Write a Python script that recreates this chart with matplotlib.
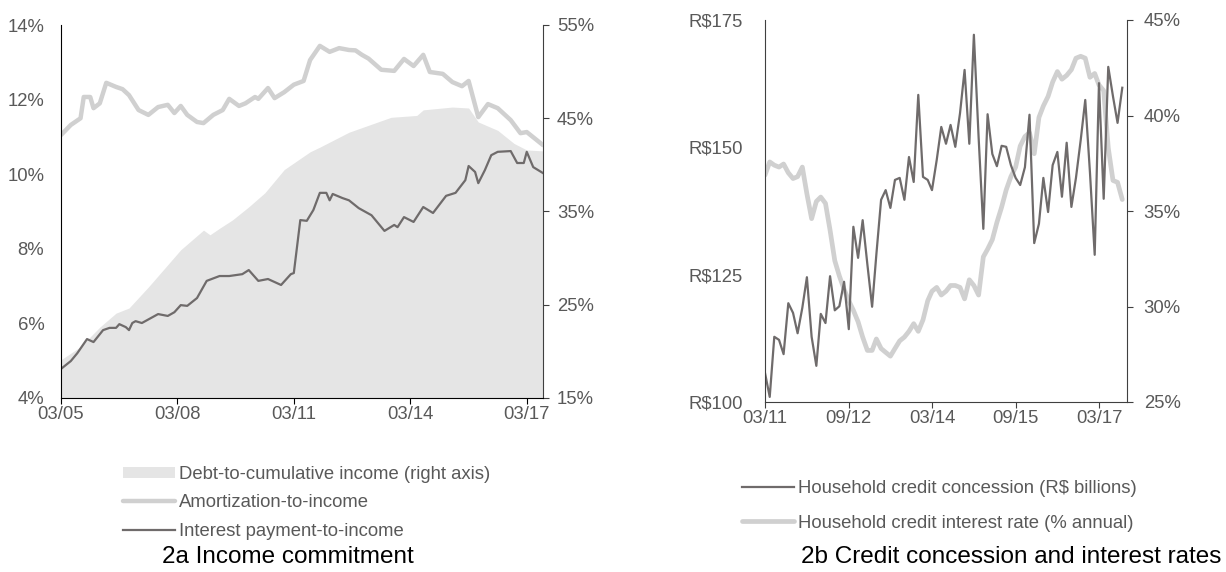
import matplotlib
matplotlib.use("Agg")
import matplotlib.pyplot as plt
import matplotlib.dates as mdates
from matplotlib.patches import Patch
from matplotlib.lines import Line2D
import pandas as pd

plt.rcParams['font.family'] = ['Liberation Sans', 'DejaVu Sans']

# ---- 2a data (monthly readings, % ) ----
amort_dates = ["2005-03", "2005-06", "2005-09", "2005-10", "2005-12", "2006-01", "2006-03", "2006-05",
               "2006-08", "2006-10", "2006-12", "2007-03", "2007-06", "2007-09", "2007-12", "2008-02",
               "2008-04", "2008-06", "2008-09", "2008-11", "2009-02", "2009-05", "2009-07", "2009-10",
               "2009-12", "2010-03", "2010-04", "2010-07", "2010-09", "2010-12", "2011-03", "2011-06",
               "2011-08", "2011-11", "2012-02", "2012-05", "2012-08", "2012-10", "2012-12", "2013-02",
               "2013-06", "2013-10", "2014-01", "2014-04", "2014-07", "2014-09", "2015-01", "2015-04",
               "2015-07", "2015-09", "2015-12", "2016-03", "2016-06", "2016-10", "2017-01", "2017-03",
               "2017-06", "2017-08"]
amortization = [11.05, 11.32, 11.5, 12.07, 12.07, 11.77, 11.9, 12.45,
                12.34, 12.28, 12.12, 11.72, 11.59, 11.8, 11.86, 11.64,
                11.83, 11.59, 11.4, 11.37, 11.59, 11.72, 12.02, 11.83,
                11.9, 12.07, 12.02, 12.31, 12.04, 12.2, 12.4, 12.5,
                13.06, 13.44, 13.28, 13.38, 13.33, 13.32, 13.2, 13.1,
                12.8, 12.77, 13.09, 12.9, 13.2, 12.74, 12.69, 12.47,
                12.36, 12.5, 11.53, 11.88, 11.77, 11.45, 11.1, 11.13,
                10.92, 10.78]

interest_dates = ["2005-03", "2005-06", "2005-08", "2005-11", "2006-01", "2006-04", "2006-06", "2006-08",
                  "2006-09", "2006-11", "2006-12", "2007-01", "2007-02", "2007-04", "2007-09", "2007-12",
                  "2008-02", "2008-04", "2008-06", "2008-09", "2008-12", "2009-04", "2009-07", "2009-11",
                  "2010-01", "2010-04", "2010-07", "2010-11", "2011-02", "2011-03", "2011-05", "2011-07",
                  "2011-09", "2011-11", "2012-01", "2012-02", "2012-03", "2012-06", "2012-08", "2012-11",
                  "2013-03", "2013-07", "2013-10", "2013-11", "2014-01", "2014-04", "2014-07", "2014-10",
                  "2015-02", "2015-05", "2015-08", "2015-09", "2015-11", "2015-12", "2016-02", "2016-04",
                  "2016-06", "2016-10", "2016-12", "2017-02", "2017-03", "2017-05", "2017-08"]
interest = [4.78, 4.99, 5.2, 5.58, 5.5, 5.82, 5.88, 5.88,
            5.98, 5.9, 5.82, 6.01, 6.06, 6.01, 6.25, 6.2,
            6.3, 6.49, 6.47, 6.68, 7.14, 7.27, 7.27, 7.32,
            7.43, 7.14, 7.19, 7.03, 7.32, 7.35, 8.77, 8.75,
            9.04, 9.5, 9.5, 9.3, 9.47, 9.36, 9.3, 9.09,
            8.9, 8.48, 8.64, 8.58, 8.85, 8.72, 9.12, 8.96,
            9.42, 9.5, 9.84, 10.22, 10.06, 9.76, 10.11, 10.51,
            10.6, 10.62, 10.3, 10.3, 10.6, 10.19, 10.03]

debt_dates = ["2005-03", "2005-06", "2005-09", "2006-03", "2006-08", "2006-12", "2007-06", "2007-12",
              "2008-04", "2008-11", "2009-01", "2009-04", "2009-08", "2010-01", "2010-06", "2010-12",
              "2011-08", "2011-11", "2012-08", "2013-09", "2014-05", "2014-07", "2015-04", "2015-09",
              "2015-12", "2016-06", "2016-11", "2017-03", "2017-08"]
debt = [19.1, 19.8, 20.5, 22.6, 24.1, 24.65, 26.9, 29.3,
        30.9, 33.0, 32.5, 33.2, 34.1, 35.5, 37.0, 39.5,
        41.4, 41.9, 43.5, 45.1, 45.3, 45.9, 46.2, 46.1,
        44.6, 43.7, 42.3, 41.6, 41.5]

# ---- 2b data (monthly from 03/2011) ----
concession = [105.7, 101, 112.8, 112.2, 109.4, 119.4, 117.5, 113.5, 118.5, 124.5,
              112.8, 107.1, 117.3, 115.5, 124.7, 118, 118.8, 123.6, 114.3, 134.4,
              128.3, 135.7, 127, 118.7, 129, 139.7, 141.6, 138.1, 143.6, 144,
              139.7, 148.1, 143.2, 160.3, 144.2, 143.6, 141.6, 147.5, 154, 150.7,
              154.4, 150.1, 156.7, 165.2, 150.7, 172.1, 152, 134, 156.5, 148.7,
              146.3, 150.3, 150.1, 146.5, 144, 142.6, 146.1, 156.4, 131.2, 135,
              144, 137.3, 146.5, 149.1, 140.3, 150.9, 138.3, 144, 151.4, 159.3,
              145, 128.9, 162.6, 139.9, 165.8, 160, 154.8, 161.7]
rate = [36.88, 37.57, 37.4, 37.3, 37.46, 37.0, 36.7, 36.8, 37.3, 35.9,
        34.6, 35.5, 35.73, 35.4, 34.0, 32.4, 31.6, 30.9, 30.3, 29.8,
        29.2, 28.4, 27.7, 27.7, 28.3, 27.8, 27.6, 27.4, 27.8, 28.2,
        28.4, 28.7, 29.1, 28.7, 29.3, 30.3, 30.8, 31.0, 30.6, 30.8,
        31.1, 31.1, 31.0, 30.4, 31.4, 31.1, 30.6, 32.6, 33.0, 33.5,
        34.4, 35.2, 36.1, 36.8, 37.3, 38.4, 38.9, 39.1, 38.0, 39.9,
        40.5, 41.0, 41.75, 42.3, 41.9, 42.1, 42.4, 43.0, 43.1, 43.0,
        42.0, 42.2, 41.6, 41.3, 38.3, 36.6, 36.5, 35.6]
months_b = pd.date_range("2011-03-01", periods=len(concession), freq="MS")

left_ticks = ["2005-03", "2008-03", "2011-03", "2014-03", "2017-03"]
right_ticks = ["2011-03", "2012-09", "2014-03", "2015-09", "2017-03"]

TXT = "#595959"
AREA = "#e5e5e5"
LIGHT = "#d0d0d0"
DARK = "#6f6b6b"
FS = 13.3

fig = plt.figure(figsize=(12.26, 5.72), dpi=100)

# ---------- 2a ----------
ax = fig.add_axes([61 / 1226, 1 - 398 / 572, 482 / 1226, 373 / 572])
axr = ax.twinx()
ax.set_zorder(axr.get_zorder() + 1)
ax.patch.set_visible(False)

axr.fill_between(pd.to_datetime(debt_dates), 0, debt, color=AREA, lw=0)
ax.plot(pd.to_datetime(amort_dates), amortization, color=LIGHT, lw=3.2, solid_capstyle='round')
ax.plot(pd.to_datetime(interest_dates), interest, color=DARK, lw=1.6)

ax.set_xlim(pd.Timestamp("2005-03-01"), pd.Timestamp("2017-08-01"))
ax.set_ylim(4, 14)
axr.set_ylim(15, 55)
ax.set_yticks([4, 6, 8, 10, 12, 14])
ax.set_yticklabels([f"{v}%" for v in [4, 6, 8, 10, 12, 14]])
axr.set_yticks([15, 25, 35, 45, 55])
axr.set_yticklabels([f"{v}%" for v in [15, 25, 35, 45, 55]])
ax.set_xticks(pd.to_datetime(left_ticks))
ax.xaxis.set_major_formatter(mdates.DateFormatter("%m/%y"))

ax.spines["top"].set_visible(False)
axr.spines["top"].set_visible(False)
ax.spines["right"].set_visible(False)
axr.spines["left"].set_visible(False)
axr.spines["bottom"].set_visible(False)
ax.spines["left"].set_color("black")
ax.spines["bottom"].set_color("black")
axr.spines["right"].set_color("#404040")
ax.tick_params(axis="y", length=0, pad=12, labelsize=FS, labelcolor=TXT)
ax.tick_params(axis="x", length=4, pad=2, labelsize=FS, labelcolor=TXT, color="black")
axr.tick_params(axis="y", length=4, pad=6, labelsize=FS, labelcolor=TXT, color="#404040")

h1 = [Patch(facecolor=AREA, edgecolor="none"),
      Line2D([], [], color=LIGHT, lw=3.2, solid_capstyle='round'),
      Line2D([], [], color=DARK, lw=1.6)]
l1 = ["Debt-to-cumulative income (right axis)", "Amortization-to-income", "Interest payment-to-income"]
fig.legend(h1, l1, loc="upper left", bbox_to_anchor=(123 / 1226, 1 - 466 / 572), frameon=False,
           fontsize=FS, labelcolor=TXT, handlelength=2.8, handletextpad=0.25, labelspacing=0.62,
           borderpad=0, borderaxespad=0, handleheight=0.55)
fig.text(288 / 1226, 1 - 557 / 572, "2a Income commitment", ha="center", va="center",
         fontsize=17.5, color="black")

# ---------- 2b ----------
bx = fig.add_axes([765 / 1226, 1 - 402 / 572, 362 / 1226, 382 / 572])
bxr = bx.twinx()
bx.set_zorder(bxr.get_zorder() + 1)
bx.patch.set_visible(False)

bxr.plot(months_b, rate, color=LIGHT, lw=3.4, solid_capstyle='round')
bx.plot(months_b, concession, color=DARK, lw=1.6)

bx.set_xlim(pd.Timestamp("2011-03-01"), pd.Timestamp("2017-09-01"))
bx.set_ylim(100, 175)
bxr.set_ylim(25, 45)
bx.set_yticks([100, 125, 150, 175])
bx.set_yticklabels([f"R${v}" for v in [100, 125, 150, 175]])
bxr.set_yticks([25, 30, 35, 40, 45])
bxr.set_yticklabels([f"{v}%" for v in [25, 30, 35, 40, 45]])
bx.set_xticks(pd.to_datetime(right_ticks))
bx.xaxis.set_major_formatter(mdates.DateFormatter("%m/%y"))

bx.spines["top"].set_visible(False)
bxr.spines["top"].set_visible(False)
bx.spines["right"].set_visible(False)
bxr.spines["left"].set_visible(False)
bxr.spines["bottom"].set_visible(False)
for s in ["left", "bottom"]:
    bx.spines[s].set_color("#404040")
bxr.spines["right"].set_color("#404040")
bx.tick_params(axis="y", length=0, pad=16, labelsize=FS, labelcolor=TXT)
bx.tick_params(axis="x", length=4, pad=2, labelsize=FS, labelcolor=TXT, color="#404040")
bxr.tick_params(axis="y", length=4, pad=8, labelsize=FS, labelcolor=TXT, color="#404040")

h2 = [Line2D([], [], color=DARK, lw=1.6),
      Line2D([], [], color=LIGHT, lw=3.4, solid_capstyle='round')]
l2 = ["Household credit concession (R$ billions)", "Household credit interest rate (% annual)"]
fig.legend(h2, l2, loc="upper left", bbox_to_anchor=(742 / 1226, 1 - 480 / 572), frameon=False,
           fontsize=FS, labelcolor=TXT, handlelength=2.8, handletextpad=0.25, labelspacing=0.95,
           borderpad=0, borderaxespad=0)
fig.text(1011 / 1226, 1 - 557 / 572, "2b Credit concession and interest rates", ha="center",
         va="center", fontsize=17.5, color="black")

fig.savefig("out.png", dpi=100)
